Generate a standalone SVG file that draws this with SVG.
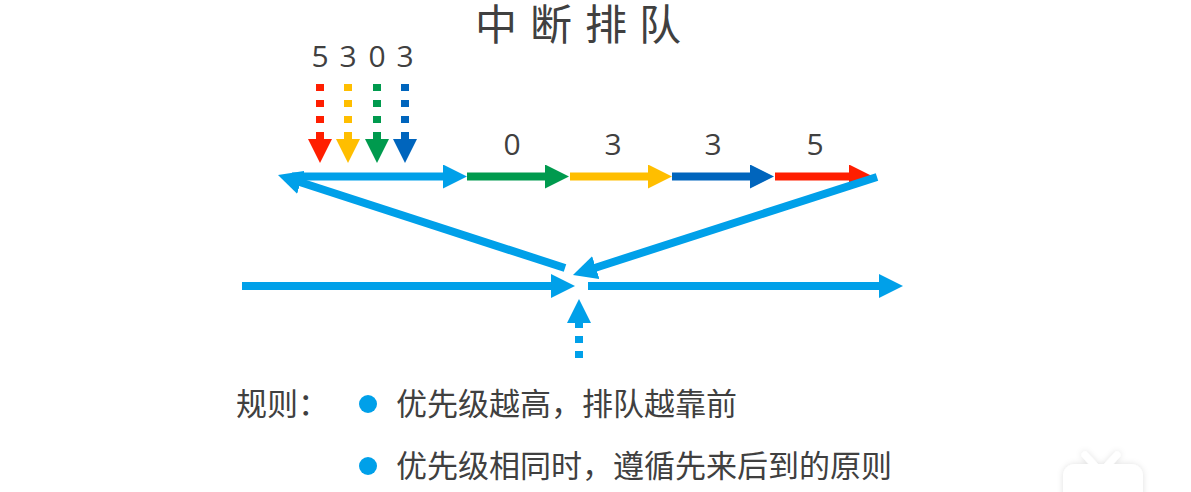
<svg xmlns="http://www.w3.org/2000/svg" width="1191" height="492" viewBox="0 0 1191 492">
<style>
  text { font-family: "Noto Sans CJK SC", "Noto Sans", sans-serif; fill: #404040; }
  .title { font-size: 42px; }
  .num { font-family: "Open Sans", "Noto Sans", sans-serif; font-size: 30px; text-anchor: middle; }
  .rule { font-size: 31px; }
  .ln { fill: none; stroke-width: 8; stroke-linecap: butt; }
  .blue { stroke: #00A0E9; }
  .green { stroke: #009A4E; }
  .yellow { stroke: #FFBE00; }
  .dblue { stroke: #0065BD; }
  .red { stroke: #FF1E00; }
</style>
<defs>
  <marker id="ah-blue" markerUnits="userSpaceOnUse" markerWidth="24" markerHeight="24" refX="2" refY="12" orient="auto" viewBox="0 0 24 24"><path d="M0,0 L24,12 L0,24 z" fill="#00A0E9"/></marker>
  <marker id="ah-green" markerUnits="userSpaceOnUse" markerWidth="24" markerHeight="24" refX="2" refY="12" orient="auto" viewBox="0 0 24 24"><path d="M0,0 L24,12 L0,24 z" fill="#009A4E"/></marker>
  <marker id="ah-yellow" markerUnits="userSpaceOnUse" markerWidth="24" markerHeight="24" refX="2" refY="12" orient="auto" viewBox="0 0 24 24"><path d="M0,0 L24,12 L0,24 z" fill="#FFBE00"/></marker>
  <marker id="ah-dblue" markerUnits="userSpaceOnUse" markerWidth="24" markerHeight="24" refX="2" refY="12" orient="auto" viewBox="0 0 24 24"><path d="M0,0 L24,12 L0,24 z" fill="#0065BD"/></marker>
  <marker id="ah-red" markerUnits="userSpaceOnUse" markerWidth="24" markerHeight="24" refX="2" refY="12" orient="auto" viewBox="0 0 24 24"><path d="M0,0 L24,12 L0,24 z" fill="#FF1E00"/></marker>
  <filter id="soft" x="-30%" y="-30%" width="160%" height="160%"><feDropShadow dx="0" dy="0" stdDeviation="3" flood-color="#000" flood-opacity="0.12"/></filter>
</defs>

<g id="title"><text class="title" x="496 523 551 578 606 633 660" y="40" text-anchor="middle">中 断 排 队</text></g>

<g id="incoming-labels"><text class="num" x="320 334 348 362 377 391 405" y="67">5 3 0 3</text></g>

<g id="queue-labels">
  <text class="num" x="512" y="155">0</text>
  <text class="num" x="613" y="155">3</text>
  <text class="num" x="713" y="155">3</text>
  <text class="num" x="815" y="155">5</text>
</g>

<g id="connectors">
  <line class="ln red" x1="320" y1="84" x2="320" y2="141" stroke-dasharray="7 9" marker-end="url(#ah-red)"/>
  <line class="ln yellow" x1="348" y1="84" x2="348" y2="141" stroke-dasharray="7 9" marker-end="url(#ah-yellow)"/>
  <line class="ln green" x1="377" y1="84" x2="377" y2="141" stroke-dasharray="7 9" marker-end="url(#ah-green)"/>
  <line class="ln dblue" x1="405" y1="84" x2="405" y2="141" stroke-dasharray="7 9" marker-end="url(#ah-dblue)"/>
  <line class="ln blue" x1="565" y1="268" x2="298.9" y2="181.8" marker-end="url(#ah-blue)"/>
  <line class="ln blue" x1="292" y1="176.5" x2="445" y2="176.5" marker-end="url(#ah-blue)"/>
  <line class="ln green" x1="467" y1="176.5" x2="547" y2="176.5" marker-end="url(#ah-green)"/>
  <line class="ln yellow" x1="570" y1="176.5" x2="650" y2="176.5" marker-end="url(#ah-yellow)"/>
  <line class="ln dblue" x1="672" y1="176.5" x2="752" y2="176.5" marker-end="url(#ah-dblue)"/>
  <line class="ln red" x1="775" y1="176.5" x2="851" y2="176.5" marker-end="url(#ah-red)"/>
  <line class="ln blue" x1="877" y1="177" x2="593.9" y2="268.2" marker-end="url(#ah-blue)"/>
  <line class="ln blue" x1="242" y1="286" x2="553" y2="286" marker-end="url(#ah-blue)"/>
  <line class="ln blue" x1="588" y1="286" x2="881" y2="286" marker-end="url(#ah-blue)"/>
  <line class="ln blue" x1="579" y1="358" x2="579" y2="321" stroke-dasharray="7 8" marker-end="url(#ah-blue)"/>
</g>

<g id="rules">
  <text class="rule" x="236" y="415">规则：</text>
  <circle cx="368" cy="404" r="9" fill="#00A0E9"/>
  <text class="rule" x="396" y="415">优先级越高，排队越靠前</text>
  <circle cx="368" cy="466" r="9" fill="#00A0E9"/>
  <text class="rule" x="396" y="477">优先级相同时，遵循先来后到的原则</text>
</g>

<g id="watermark" filter="url(#soft)">
  <line x1="1085" y1="455" x2="1097" y2="468" stroke="#fff" stroke-width="7" stroke-linecap="round"/>
  <line x1="1117" y1="455" x2="1105" y2="468" stroke="#fff" stroke-width="7" stroke-linecap="round"/>
  <rect x="1063" y="464" width="80" height="44" rx="12" fill="#fff"/>
</g>
</svg>
